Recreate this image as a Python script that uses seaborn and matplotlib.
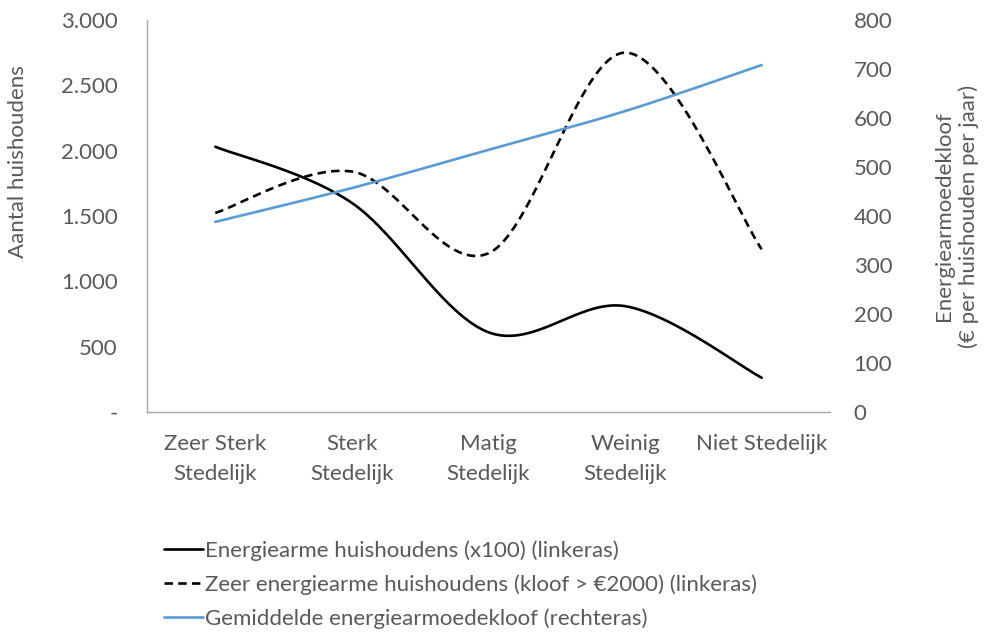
import numpy as np
import pandas as pd
import matplotlib
matplotlib.use("Agg")
import matplotlib.pyplot as plt
import seaborn as sns
from matplotlib.ticker import FuncFormatter
from matplotlib.lines import Line2D

# ==========================================
# DATA
# ==========================================
categories = ["Zeer Sterk\nStedelijk", "Sterk\nStedelijk", "Matig\nStedelijk",
              "Weinig\nStedelijk", "Niet Stedelijk"]
energiearm_x100 = [2030, 1600, 610, 810, 262]       # linkeras
zeer_energiearm = [1523, 1840, 1215, 2750, 1245]    # linkeras
gem_kloof = [388, 457, 535, 614, 708]               # rechteras

labels = ["Energiearme huishoudens (x100) (linkeras)",
          "Zeer energiearme huishoudens (kloof > €2000) (linkeras)",
          "Gemiddelde energiearmoedekloof (rechteras)"]

grey = "#595959"
blue = "#5B9BD5"
fs = 16
dash = (0, (3.2, 2.0))


def smooth(y, n=60):
    # Excel-style smoothed line: cubic Bezier through the points (Catmull-Rom, 1/6)
    x = np.arange(len(y), dtype=float)
    y = np.asarray(y, dtype=float)
    px = np.concatenate([[x[0]], x, [x[-1]]])
    py = np.concatenate([[y[0]], y, [y[-1]]])
    xs, ys = [], []
    for i in range(1, len(px) - 2):
        p0 = np.array([px[i], py[i]])
        p3 = np.array([px[i + 1], py[i + 1]])
        c1 = p0 + (np.array([px[i + 1], py[i + 1]]) - np.array([px[i - 1], py[i - 1]])) / 6
        c2 = p3 - (np.array([px[i + 2], py[i + 2]]) - np.array([px[i], py[i]])) / 6
        t = np.linspace(0, 1, n)[:, None]
        pts = ((1 - t) ** 3) * p0 + 3 * ((1 - t) ** 2) * t * c1 + 3 * (1 - t) * t ** 2 * c2 + t ** 3 * p3
        xs.extend(pts[:, 0]); ys.extend(pts[:, 1])
    return pd.DataFrame({"x": xs, "y": ys})


sns.set_theme(style="white")
plt.rcParams["font.family"] = ["Lato", "DejaVu Sans"]

fig = plt.figure(figsize=(9.84, 6.32), dpi=100)
ax = fig.add_axes([0.1494, 0.3481, 0.6941, 0.6203])
ax2 = ax.twinx()

sns.lineplot(data=smooth(energiearm_x100), x="x", y="y", sort=False, color="black",
             linewidth=1.9, ax=ax)
sns.lineplot(data=smooth(zeer_energiearm), x="x", y="y", sort=False, color="black",
             linewidth=1.9, linestyle=dash, ax=ax)
sns.lineplot(data=smooth(gem_kloof), x="x", y="y", sort=False, color=blue,
             linewidth=1.9, ax=ax2)

ax.set_xlim(-0.5, len(categories) - 0.5)
ax.set_ylim(0, 3000)
ax2.set_ylim(0, 800)
ax.set_yticks(np.arange(0, 3001, 500))
ax2.set_yticks(np.arange(0, 801, 100))
ax.yaxis.set_major_formatter(FuncFormatter(
    lambda v, p: "-" if v == 0 else f"{int(v):,}".replace(",", ".")))
ax.set_xticks(range(len(categories)))
ax.set_xticklabels(categories, linespacing=1.6)

for a in (ax, ax2):
    a.tick_params(axis="both", labelsize=fs, labelcolor=grey, length=0)
    a.set_xlabel("")
    for s in ("top", "right", "left", "bottom"):
        a.spines[s].set_visible(False)
ax.tick_params(axis="y", pad=21)
ax.tick_params(axis="x", pad=16)
ax2.tick_params(axis="y", pad=17)
for s in ("left", "bottom"):
    ax.spines[s].set_visible(True)
    ax.spines[s].set_color("#A6A6A6")
    ax.spines[s].set_linewidth(1.0)

ax.set_ylabel("Aantal huishoudens", fontsize=fs, color=grey, ha="center", va="center")
ax.yaxis.set_label_coords(-0.189, 0.638)
ax2.set_ylabel("Energiearmoedekloof\n(€ per huishouden per jaar)", fontsize=fs,
               color=grey, linespacing=1.3, ha="center", va="center", rotation=90)
ax2.yaxis.set_label_coords(1.185, 0.5)

handles = [Line2D([], [], color="black", linewidth=1.9),
           Line2D([], [], color="black", linewidth=1.9, linestyle=dash),
           Line2D([], [], color=blue, linewidth=1.9)]
fig.legend(handles, labels, loc="upper left", bbox_to_anchor=(0.155, 0.163),
           frameon=False, fontsize=fs, handlelength=1.75, handletextpad=0.1,
           labelspacing=0.6, labelcolor=grey, borderpad=0)

fig.savefig("out.png", dpi=100, facecolor="white")
